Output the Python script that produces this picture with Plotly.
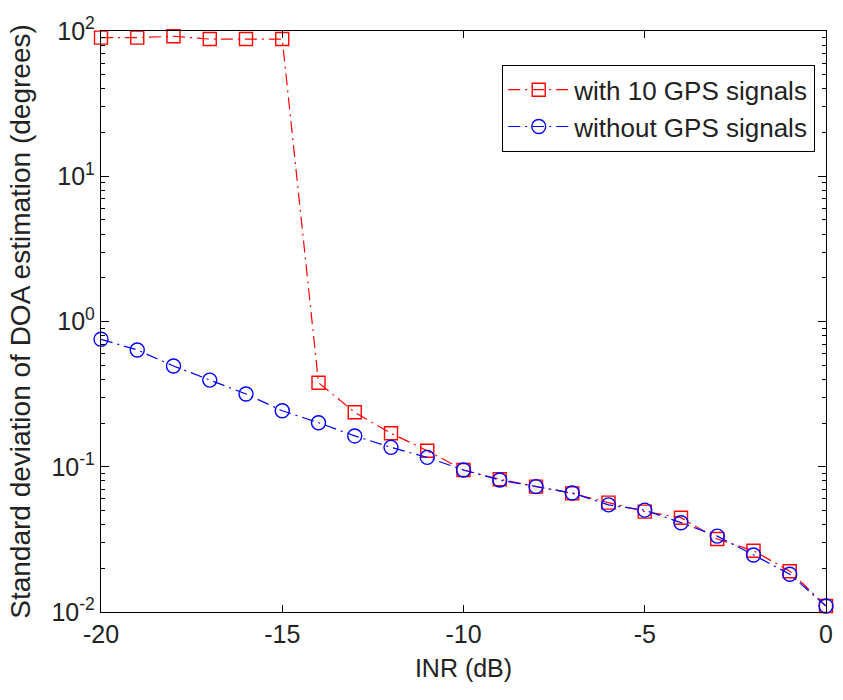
import plotly.graph_objects as go

inr_db = list(range(-20, 1))
with_gps = [90, 90, 92, 88, 88, 88, 0.379, 0.237, 0.170, 0.129, 0.095, 0.082, 0.073,
            0.0656, 0.0566, 0.0491, 0.0446, 0.0318, 0.0264, 0.0191, 0.011]
without_gps = [0.754, 0.637, 0.494, 0.395, 0.317, 0.243, 0.201, 0.163, 0.136, 0.116,
               0.095, 0.081, 0.073, 0.066, 0.0546, 0.0503, 0.0412, 0.0333, 0.0247,
               0.0182, 0.011]
names = ["with 10 GPS signals", "without GPS signals"]
x_ticks = [-20, -15, -10, -5, 0]
x_ticktext = ["-20", "-15", "-10", "-5", "0"]
y_ticks = [0.01, 0.1, 1, 10, 100]
y_ticktext = ["10<sup>-2</sup>", "10<sup>-1</sup>", "10<sup>0</sup>", "10<sup>1</sup>", "10<sup>2</sup>"]
y_minor = [m * 10 ** e for e in range(-2, 2) for m in range(2, 10)]

FONT = "Arial, Liberation Sans, sans-serif"
DASH = "12px,5px,2px,5px"

fig = go.Figure()
fig.add_trace(go.Scatter(
    x=inr_db, y=with_gps, name=names[0], mode="lines+markers",
    line=dict(color="#FF0000", width=1.2, dash=DASH),
    marker=dict(symbol="square-open", size=13, color="#FF0000", line=dict(width=1.4)),
    cliponaxis=False))
fig.add_trace(go.Scatter(
    x=inr_db, y=without_gps, name=names[1], mode="lines+markers",
    line=dict(color="#0000FF", width=1.2, dash=DASH),
    marker=dict(symbol="circle-open", size=14, color="#0000FF", line=dict(width=1.4)),
    cliponaxis=False))

axis_common = dict(showline=True, linecolor="black", linewidth=1.3, mirror="ticks",
                   ticks="inside", tickcolor="black", showgrid=False, zeroline=False,
                   tickfont=dict(family=FONT, size=25, color="#222"))

fig.update_xaxes(range=[-20, 0], tickvals=x_ticks, ticktext=x_ticktext, ticklen=7,
                 title=dict(text="INR (dB)", font=dict(family=FONT, size=25, color="#222"), standoff=12),
                 **axis_common)
fig.update_yaxes(type="log", range=[-2, 2], tickvals=y_ticks, ticktext=y_ticktext, ticklen=8,
                 minor=dict(tickvals=y_minor, ticks="inside", ticklen=4, tickcolor="black"),
                 title=dict(text="Standard deviation of DOA estimation (degrees)",
                            font=dict(family=FONT, size=28, color="#222"), standoff=12),
                 **axis_common)

fig.update_layout(
    width=843, height=700,
    margin=dict(l=101, r=10, t=31, b=88),
    paper_bgcolor="white", plot_bgcolor="white",
    legend=dict(x=0.553, y=0.9415, xanchor="left", yanchor="top",
                bgcolor="white", bordercolor="black", borderwidth=1.3,
                font=dict(family=FONT, size=26, color="#222"),
                tracegroupgap=0, itemwidth=61),
    showlegend=True,
)

fig.write_html("out.html")
